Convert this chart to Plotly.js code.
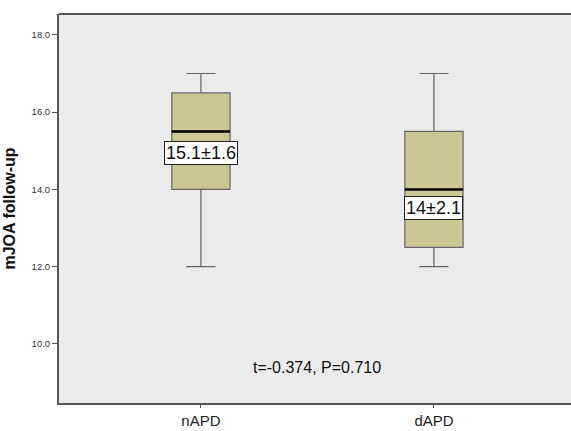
<!DOCTYPE html>
<html><head><meta charset="utf-8">
<script src="https://cdn.plot.ly/plotly-3.0.1.min.js"></script>
<style>html,body{margin:0;padding:0;background:#fff}</style>
</head><body>
<div id="chart" style="width:571px;height:431px"></div>
<script>
const categories = ["nAPD", "dAPD"];
const lowerWhisker = [12, 12];
const q1 = [14, 12.5];
const medians = [15.5, 14];
const q3 = [16.5, 15.5];
const upperWhisker = [17, 17];
const labelTexts = ["15.1±1.6", "14±2.1"];
const labelY = [14.95, 13.52];
const statText = "t=-0.374, P=0.710";
const yTicks = [10, 12, 14, 16, 18];

const pos = categories.map((c, i) => i);
const boxW = 0.25;

const traces = [{
  type: "box",
  x: pos,
  q1: q1, median: medians, q3: q3,
  lowerfence: lowerWhisker, upperfence: upperWhisker,
  width: boxW,
  whiskerwidth: 0.5,
  fillcolor: "#cbc794",
  line: {color: "#666666", width: 1.2},
  boxpoints: false,
  hoverinfo: "skip",
  showlegend: false
}];

const shapes = pos.map((p, i) => ({
  type: "line", xref: "x", yref: "y",
  x0: p - boxW / 2, x1: p + boxW / 2, y0: medians[i], y1: medians[i],
  line: {color: "#000", width: 2.5}
}));
// hide the right frame edge (the reference has none)
shapes.push({
  type: "line", xref: "paper", yref: "paper", layer: "above",
  x0: 1, x1: 1, y0: 0.004, y1: 0.996,
  line: {color: "#ebebeb", width: 6}
});
// top border of the plot frame
shapes.push({
  type: "line", xref: "paper", yref: "paper", layer: "above",
  x0: 0, x1: 1, y0: 1, y1: 1,
  line: {color: "#555", width: 2}
});

const annotations = pos.map((p, i) => ({
  x: p, y: labelY[i], xref: "x", yref: "y",
  text: labelTexts[i], showarrow: false,
  font: {family: "Arial, Liberation Sans, sans-serif", size: 18, color: "#111"},
  bgcolor: "#ffffff", bordercolor: "#222", borderwidth: 1, borderpad: 1
}));
annotations.push({
  x: 0.5, y: 9.4, xref: "x", yref: "y",
  text: statText, showarrow: false,
  font: {family: "Arial, Liberation Sans, sans-serif", size: 16, color: "#111"}
});

const layout = {
  width: 571, height: 431,
  margin: {l: 59, r: 0, t: 14, b: 28},
  paper_bgcolor: "#ffffff",
  plot_bgcolor: "#ebebeb",
  showlegend: false,
  xaxis: {
    range: [-0.609, 1.588],
    tickvals: pos, ticktext: categories,
    showgrid: false, zeroline: false,
    showline: true, linecolor: "#555", linewidth: 2,
    ticks: "outside", ticklen: 3, tickcolor: "#555",
    tickfont: {family: "Arial, Liberation Sans, sans-serif", size: 15, color: "#222"}
  },
  yaxis: {
    range: [8.47, 18.54],
    tickvals: yTicks, ticktext: yTicks.map(v => v.toFixed(1)),
    showgrid: false, zeroline: false,
    showline: true, linecolor: "#555", linewidth: 2,
    ticks: "outside", ticklen: 5, tickcolor: "#555",
    tickfont: {family: "Arial, Liberation Sans, sans-serif", size: 9.5, color: "#333"},
    title: {text: "<b>mJOA follow-up</b>", standoff: 12,
      font: {family: "Arial, Liberation Sans, sans-serif", size: 16, color: "#111"}}
  },
  shapes: shapes,
  annotations: annotations
};

Plotly.newPlot("chart", traces, layout, {displayModeBar: false, staticPlot: true});
</script>
</body></html>
